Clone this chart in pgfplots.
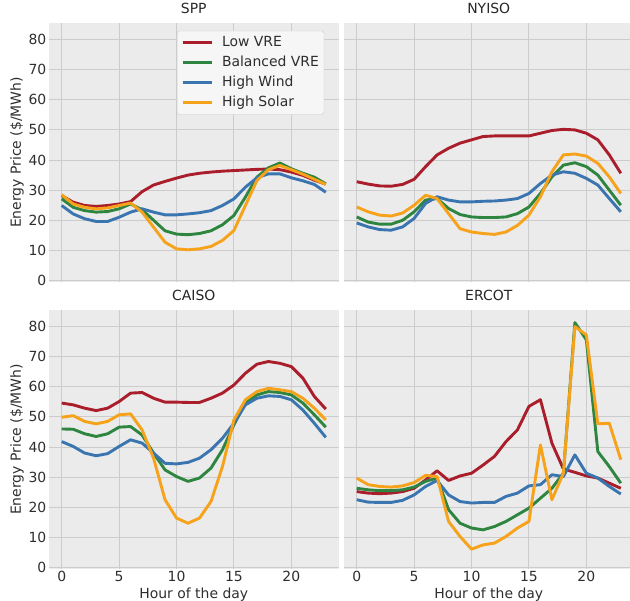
\documentclass[border=0pt]{standalone}
\usepackage{pgfplots}
\pgfplotsset{compat=1.18}
\usepackage{pgfplotstable}
\usepackage{fontspec}
\setmainfont{DejaVu Sans}

\definecolor{lowvre}{HTML}{AA1D2B}
\definecolor{balvre}{HTML}{2E8540}
\definecolor{hiwind}{HTML}{3A75B0}
\definecolor{hisolar}{HTML}{F7A21B}
\definecolor{bgc}{HTML}{EBEBEB}
\definecolor{gridc}{HTML}{CCCCCC}
\definecolor{labc}{HTML}{2E2E2E}

% hourly prices, $/MWh
\pgfplotstableread{
h low bal wind solar
0 28.2 27.1 24.9 28.5
1 26.0 24.3 22.1 25.4
2 24.9 23.2 20.5 24.3
3 24.6 22.7 19.6 23.8
4 24.9 22.9 19.6 24.1
5 25.4 23.8 21.0 24.9
6 26.2 25.4 22.7 25.7
7 29.5 23.5 23.8 22.7
8 31.7 20.0 22.7 17.7
9 32.9 16.5 21.8 12.7
10 34.0 15.4 21.8 10.5
11 35.0 15.2 22.1 10.2
12 35.6 15.6 22.5 10.5
13 36.0 16.5 23.2 11.3
14 36.3 18.5 24.9 13.3
15 36.5 21.6 27.1 16.6
16 36.7 27.7 31.0 24.9
17 36.9 34.3 34.1 33.2
18 37.0 37.4 35.4 36.8
19 36.8 39.0 35.4 38.2
20 36.0 37.1 34.1 36.8
21 34.9 35.6 33.1 35.3
22 33.3 34.3 31.9 33.6
23 32.0 32.1 29.3 31.9
}\spp

\pgfplotstableread{
h low bal wind solar
0 32.8 21.1 19.1 24.4
1 32.0 19.4 17.8 22.8
2 31.4 18.7 16.9 21.7
3 31.3 18.7 16.7 21.4
4 31.9 20.0 17.8 22.4
5 33.6 22.8 20.6 25.0
6 37.8 26.7 25.6 28.3
7 41.7 27.2 27.8 27.2
8 43.9 23.9 26.7 22.2
9 45.6 21.9 26.1 17.2
10 46.7 21.1 26.1 16.1
11 47.8 20.9 26.3 15.6
12 48.0 20.9 26.4 15.3
13 48.0 21.1 26.7 16.1
14 48.0 22.2 27.2 18.3
15 48.0 24.4 28.9 21.7
16 48.9 28.9 32.2 27.8
17 49.8 34.4 35.0 36.1
18 50.2 38.3 36.1 41.7
19 50.0 39.1 35.6 42.0
20 48.9 37.8 33.9 41.3
21 46.7 35.0 31.7 38.9
22 41.7 30.0 27.2 34.4
23 35.6 25.0 22.8 28.9
}\nyiso

\pgfplotstableread{
h low bal wind solar
0 54.6 46.0 41.8 49.9
1 54.0 45.9 40.2 50.4
2 52.9 44.4 38.0 48.5
3 52.1 43.5 37.1 47.7
4 52.9 44.4 37.8 48.5
5 55.1 46.6 40.2 50.7
6 57.9 46.8 42.4 51.0
7 58.1 44.0 41.3 45.7
8 56.2 38.0 38.0 36.3
9 54.9 32.4 34.6 22.5
10 54.9 30.2 34.4 16.4
11 54.8 28.6 34.9 14.7
12 54.8 29.7 36.3 16.4
13 56.2 33.0 39.1 21.9
14 57.9 39.1 42.9 33.5
15 60.6 47.4 47.9 49.0
16 64.5 54.6 54.0 55.7
17 67.5 57.3 56.2 58.4
18 68.4 58.4 57.0 59.5
19 67.8 58.1 56.8 59.0
20 66.7 57.3 55.7 58.4
21 62.9 54.6 52.3 56.2
22 56.8 50.7 47.9 52.9
23 52.6 46.6 43.2 49.0
}\caiso

\pgfplotstableread{
h low bal wind solar
0 25.2 26.3 22.5 29.7
1 24.7 25.8 21.7 27.5
2 24.5 25.5 21.6 26.9
3 24.7 25.5 21.6 26.7
4 25.2 25.8 22.3 27.1
5 26.3 26.7 24.1 28.2
6 29.1 28.6 26.9 30.6
7 32.1 29.7 28.9 30.2
8 28.9 19.2 24.1 15.3
9 30.4 14.7 21.9 10.3
10 31.3 13.1 21.4 6.1
11 34.0 12.5 21.6 7.5
12 36.9 13.6 21.6 8.1
13 41.8 15.3 23.6 10.3
14 45.7 17.5 24.7 13.1
15 53.5 19.7 27.1 15.3
16 55.7 23.0 27.5 40.7
17 41.3 26.3 30.8 22.5
18 32.7 31.3 30.2 31.3
19 31.6 81.3 37.4 80.0
20 30.4 75.6 31.3 77.2
21 29.7 38.5 29.7 47.7
22 28.0 33.5 26.9 47.9
23 26.3 28.0 24.4 35.8
}\ercot

\pgfplotsset{
  panel/.style={
    scale only axis, width=290.5bp, height=259bp, anchor=south west,
    xmin=-1.15, xmax=24.15, ymin=-0.5, ymax=85.5,
    xtick={0,5,...,20}, ytick={0,10,...,80},
    axis background/.style={fill=bgc},
    axis line style={draw=none},
    grid=major, major grid style={gridc, line width=0.9bp},
    major tick length=0,
    tick label style={font=\fontsize{14}{16}\selectfont, text=labc},
    yticklabel style={inner sep=2bp},
    xticklabel style={inner sep=2bp},
    /pgf/number format/assume math mode=true,
    title style={font=\fontsize{14}{16}\selectfont, text=black!85,
      at={(0.5,1)}, anchor=south, inner sep=2bp, yshift=1bp},
    label style={font=\fontsize{14}{16}\selectfont, text=labc},
    ylabel style={at={(axis description cs:-0.1084,0.5)}, anchor=center, rotate=0},
    xlabel style={at={(axis description cs:0.5,-0.099)}, anchor=center},
    every axis plot/.append style={line width=2.9bp, line join=round, mark=none},
  },
  noxlab/.style={xticklabels={}},
  noylab/.style={yticklabels={}},
}

\newcommand{\fourlines}[1]{%
  \addplot[lowvre] table[x=h, y=low] {#1};
  \addplot[balvre] table[x=h, y=bal] {#1};
  \addplot[hiwind] table[x=h, y=wind] {#1};
  \addplot[hisolar] table[x=h, y=solar] {#1};
}

\begin{document}
\begin{tikzpicture}
\useasboundingbox (0,0) rectangle (630bp,601bp);

\begin{axis}[panel, noxlab, at={(48.5bp,319bp)}, title={SPP},
  ylabel={Energy Price (\$/MWh)},
  legend style={at={(axis description cs:0.442,0.97)}, anchor=north west,
    fill=white!55!bgc, draw=gridc, rounded corners=2.5bp,
    font=\fontsize{14}{16}\selectfont, text=labc,
    inner xsep=4bp, inner ysep=4bp, row sep=4.5bp, column sep=8bp,
    nodes={inner sep=1bp, text height=10.5bp, text depth=3bp}},
  legend cell align=left,
  legend image code/.code={\draw[#1, line width=2.9bp] (0bp,0bp) -- (29bp,0bp);}]
\fourlines{\spp}
\legend{Low VRE, Balanced VRE, High Wind, High Solar}
\end{axis}

\begin{axis}[panel, noxlab, noylab, at={(343.5bp,319bp)}, title={NYISO}]
\fourlines{\nyiso}
\end{axis}

\begin{axis}[panel, at={(48.5bp,32bp)}, title={CAISO},
  ylabel={Energy Price (\$/MWh)}, xlabel={Hour of the day}]
\fourlines{\caiso}
\end{axis}

\begin{axis}[panel, noylab, at={(343.5bp,32bp)}, title={ERCOT},
  xlabel={Hour of the day}]
\fourlines{\ercot}
\end{axis}
\end{tikzpicture}
\end{document}
